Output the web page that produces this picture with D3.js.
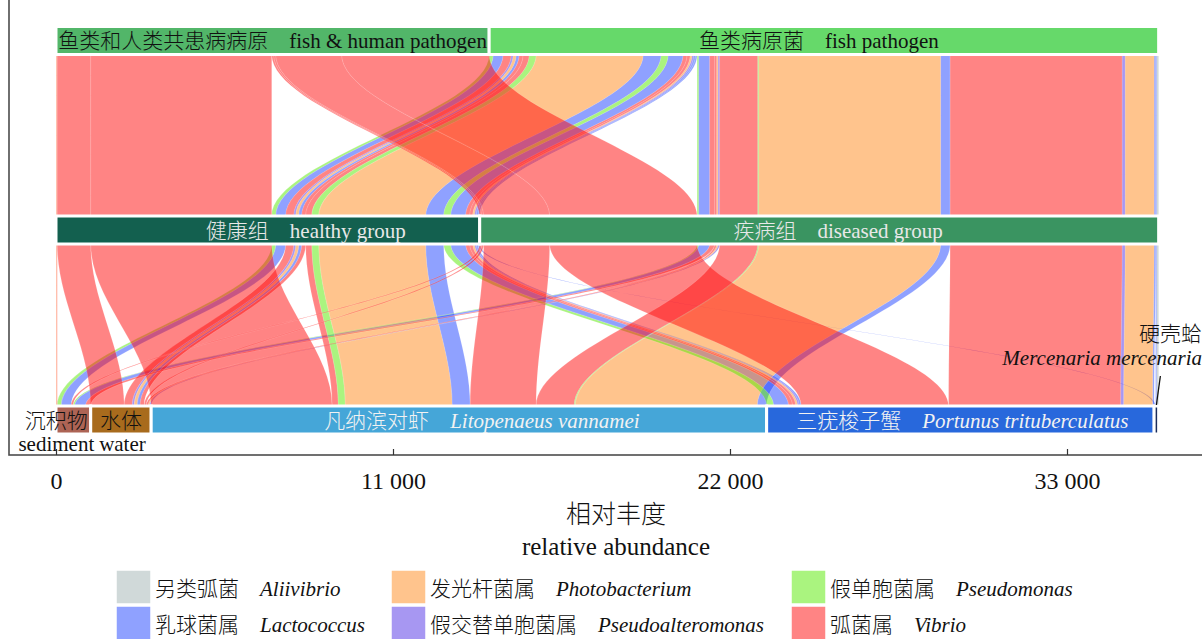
<!DOCTYPE html>
<html>
<head>
<meta charset="utf-8">
<script src="https://cdn.jsdelivr.net/npm/d3@7"></script>
<style>
  html, body { margin: 0; padding: 0; background: #fff; }
  svg { display: block; font-family: "Liberation Serif", "Noto Sans CJK SC", serif; font-weight: 300; }
</style>
</head>
<body>
<svg id="chart" width="1202" height="639"></svg>
<script>
// ---- categories (three axes + fill) ----
const pathogenTypes   = ["fish & human pathogen", "fish pathogen"];
const pathogenTypesZh = ["鱼类和人类共患病病原", "鱼类病原菌"];
const healthGroups    = ["healthy group", "diseased group"];
const healthGroupsZh  = ["健康组", "疾病组"];
const hosts   = ["sediment", "water", "Litopenaeus vannamei", "Portunus trituberculatus", "Mercenaria mercenaria"];
const hostsZh = ["沉积物", "水体", "凡纳滨对虾", "三疣梭子蟹", "硬壳蛤"];
const genera   = ["Aliivibrio", "Lactococcus", "Photobacterium", "Pseudoalteromonas", "Pseudomonas", "Vibrio"];
const generaZh = ["另类弧菌", "乳球菌属", "发光杆菌属", "假交替单胞菌属", "假单胞菌属", "弧菌属"];
const tickValues = [0, 11000, 22000, 33000];

// ---- alluvia: one entry per pathogen type / group / host / genus ----
// flowPathogen, flowGroup, flowHost hold indices into the category arrays above
const flowPathogen = [0, 0, 0, 0,
  1, 1, 1, 1, 1, 1, 1, 1, 1, 1, 1, 1, 1, 1, 1, 1, 1, 1, 1,
  0, 0, 0, 0,
  1, 1, 1, 1, 1, 1, 1, 1, 1, 1, 1, 1, 1, 1, 1, 1];
const flowGroup = [0, 0, 0, 0,
  0, 0, 0, 0, 0, 0, 0, 0, 0, 0, 0, 0, 0, 0, 0, 0, 0, 0, 0,
  1, 1, 1, 1,
  1, 1, 1, 1, 1, 1, 1, 1, 1, 1, 1, 1, 1, 1, 1, 1];
const flowHost = [0, 0, 1, 2,
  0, 0, 1, 1, 1, 1, 1, 2, 2, 2, 2, 3, 3, 3, 3, 3, 3, 3, 4,
  0, 1, 2, 3,
  0, 0, 0, 1, 1, 1, 2, 2, 2, 2, 3, 3, 3, 3, 4, 4];
const flowGenus = [
  "Photobacterium", "Vibrio", "Vibrio", "Vibrio",
  "Pseudomonas", "Lactococcus", "Vibrio", "Pseudoalteromonas", "Photobacterium", "Lactococcus", "Vibrio",
  "Vibrio", "Pseudomonas", "Photobacterium", "Lactococcus",
  "Pseudomonas", "Lactococcus", "Vibrio", "Vibrio", "Photobacterium", "Pseudoalteromonas", "Lactococcus",
  "Lactococcus",
  "Vibrio", "Vibrio", "Vibrio", "Vibrio",
  "Pseudomonas", "Lactococcus", "Vibrio", "Vibrio", "Photobacterium", "Pseudoalteromonas",
  "Vibrio", "Pseudomonas", "Photobacterium", "Lactococcus",
  "Vibrio", "Pseudoalteromonas", "Photobacterium", "Lactococcus",
  "Lactococcus", "Aliivibrio"];
const flowAbundance = [20, 20, 1093, 5908,
  131, 326, 261, 65, 98, 98, 131, 196, 228, 3492, 588, 228, 490, 131, 98, 65, 49, 65, 49,
  65, 65, 2154, 4814,
  49, 359, 163, 65, 49, 49, 1240, 33, 5940, 310, 5614, 98, 947, 49, 33, 65];

// ---- styling ----
const genusColor = d3.scaleOrdinal()
  .domain(genera)
  .range(["#a2b3b3", "#1f44ff", "#ff8a1c", "#5030e6", "#56ea00", "#ff0a0a"]);
const strataFill = [
  ["#52b669", "#66d96a"],
  ["#13604f", "#3a9461"],
  ["#ad6455", "#a86b1d", "#45a6d8", "#2868dc", "#1a2c5b"]
];
const strataText = [
  ["#111", "#111"],
  ["#e8e8e8", "#e8e8e8"],
  ["#111", "#111", "#f2f2f2", "#f2f2f2", "#111"]
];
const labelShift = [[0, -5], [38, 19], [-17, 0, 23, 2, 0]];

const svg = d3.select("#chart");
const W = 1202;

const x = d3.scaleLinear().domain([0, 33000]).range([56, 1067]);
const axisY = [40.5, 230, 420];   // centre of each stratum row
const halfH = 14;
const knot = 0.35;                // control-point depth of the flow curves

// ---- lode layout: each axis orders its lodes by its own stratum, then the
// strata of the other axes (zig-zag guidance), then the alluvium order ----
const n = flowAbundance.length;
const ids = d3.range(n);
const cats = [pathogenTypes, healthGroups, hosts];
const keys = [flowPathogen, flowGroup, flowHost];
const guidance = [[0, 1, 2], [1, 0, 2], [2, 1, 0]];
const lo = [[], [], []], hi = [[], [], []];
const strata = [[], [], []];

guidance.forEach((order, a) => {
  const sorted = ids.slice().sort((p, q) => {
    for (const k of order) {
      const d = keys[k][p] - keys[k][q];
      if (d) return d;
    }
    return p - q;
  });
  let cum = 0;
  sorted.forEach(i => { lo[a][i] = cum; cum += flowAbundance[i]; hi[a][i] = cum; });
  cats[a].forEach((c, s) => {
    const members = ids.filter(i => keys[a][i] === s);
    strata[a].push({
      axis: a, index: s,
      start: d3.min(members, i => lo[a][i]),
      end: d3.max(members, i => hi[a][i])
    });
  });
});

// ---- alluvium ribbons ----
function ribbon(i) {
  const xl = [0, 1, 2].map(a => x(lo[a][i]));
  const xr = [0, 1, 2].map(a => x(hi[a][i]));
  const y0b = axisY[0] + halfH, y1t = axisY[1] - halfH, y1b = axisY[1] + halfH, y2t = axisY[2] - halfH;
  const a1 = y0b + knot * (y1t - y0b), a2 = y1t - knot * (y1t - y0b);
  const b1 = y1b + knot * (y2t - y1b), b2 = y2t - knot * (y2t - y1b);
  const p = d3.path();
  p.moveTo(xl[0], axisY[0]);
  p.lineTo(xl[0], y0b);
  p.bezierCurveTo(xl[0], a1, xl[1], a2, xl[1], y1t);
  p.lineTo(xl[1], y1b);
  p.bezierCurveTo(xl[1], b1, xl[2], b2, xl[2], y2t);
  p.lineTo(xl[2], axisY[2]);
  p.lineTo(xr[2], axisY[2]);
  p.lineTo(xr[2], y2t);
  p.bezierCurveTo(xr[2], b2, xr[1], b1, xr[1], y1b);
  p.lineTo(xr[1], y1t);
  p.bezierCurveTo(xr[1], a2, xr[0], a1, xr[0], y0b);
  p.lineTo(xr[0], axisY[0]);
  p.closePath();
  return p.toString();
}

const drawOrder = ids.slice().sort((p, q) =>
  genera.indexOf(flowGenus[p]) - genera.indexOf(flowGenus[q]) || p - q);

svg.append("g").attr("class", "alluvia")
  .selectAll("path")
  .data(drawOrder)
  .join("path")
  .attr("d", ribbon)
  .attr("fill", i => genusColor(flowGenus[i]))
  .attr("fill-opacity", 0.5)
  .attr("stroke", "#fff")
  .attr("stroke-opacity", 0.45)
  .attr("stroke-width", 0.3);

// ---- strata ----
const allStrata = strata.flat();
svg.append("g").attr("class", "strata")
  .selectAll("rect")
  .data(allStrata)
  .join("rect")
  .attr("x", d => x(d.start))
  .attr("width", d => x(d.end) - x(d.start))
  .attr("y", d => axisY[d.axis] - halfH)
  .attr("height", halfH * 2)
  .attr("fill", d => strataFill[d.axis][d.index])
  .attr("stroke", "#fff")
  .attr("stroke-width", 3);

// ---- stratum labels ----
const zhNames = [pathogenTypesZh, healthGroupsZh, hostsZh];
const labels = svg.append("g").attr("class", "stratum-labels").attr("font-size", 21);

allStrata.forEach(d => {
  const cx = (x(d.start) + x(d.end)) / 2 + labelShift[d.axis][d.index];
  const name = cats[d.axis][d.index];
  const zh = zhNames[d.axis][d.index];
  const base = axisY[d.axis] + 7.5;
  if (d.axis === 2 && d.index <= 1) {
    // small strata: Chinese inside the bar, English on the line below
    labels.append("text").attr("x", cx).attr("y", base)
      .attr("text-anchor", "middle").attr("fill", "#111").text(zh);
    labels.append("text").attr("x", cx + (d.index === 0 ? 0 : 1.5)).attr("y", base + 23)
      .attr("text-anchor", "middle").attr("fill", "#111").text(name);
  } else if (d.axis === 2 && d.index === 4) {
    // tiny stratum: label off to the side with a leader line
    const sx = (x(d.start) + x(d.end)) / 2;
    labels.append("line")
      .attr("x1", sx).attr("y1", axisY[2] - halfH - 1)
      .attr("x2", sx + 4).attr("y2", axisY[2] - halfH - 30)
      .attr("stroke", "#111").attr("stroke-width", 1.3);
    labels.append("text").attr("x", W).attr("y", 341)
      .attr("text-anchor", "end").attr("fill", "#111").text(zh);
    labels.append("text").attr("x", W).attr("y", 365)
      .attr("text-anchor", "end").attr("fill", "#111")
      .attr("font-style", "italic").text(name);
  } else {
    const t = labels.append("text").attr("x", cx).attr("y", base)
      .attr("text-anchor", "middle").attr("fill", strataText[d.axis][d.index]);
    t.append("tspan").text(zh + "\u3000");
    t.append("tspan").attr("font-style", d.axis === 2 ? "italic" : "normal").text(name);
  }
});

// ---- panel frame and axis ----
const panelBottom = 455;
svg.append("rect")
  .attr("x", 9).attr("y", -5)
  .attr("width", 1260).attr("height", panelBottom + 5)
  .attr("fill", "none").attr("stroke", "#4d4d4d").attr("stroke-width", 1.6);

const fmt = d3.formatLocale({ decimal: ".", thousands: " ", grouping: [3], currency: ["", ""] }).format(",");
const axis = d3.axisBottom(x).tickValues(tickValues).tickFormat(fmt)
  .tickSizeInner(-6).tickSizeOuter(0).tickPadding(17);
const ag = svg.append("g").attr("transform", `translate(0,${panelBottom})`).call(axis);
ag.select(".domain").remove();
ag.selectAll(".tick line").attr("stroke", "#333").attr("stroke-width", 1.2);
ag.selectAll(".tick text")
  .attr("fill", "#111")
  .attr("font-size", 24)
  .attr("font-family", "Liberation Serif, serif");

svg.append("text").attr("x", 616).attr("y", 523)
  .attr("text-anchor", "middle").attr("font-size", 25).attr("fill", "#111").text("相对丰度");
svg.append("text").attr("x", 616).attr("y", 555)
  .attr("text-anchor", "middle").attr("font-size", 25).attr("fill", "#111").text("relative abundance");

// ---- legend: three columns, two rows ----
const legendCols = [116, 391, 791];
const legendRows = [570, 606];
const legend = svg.append("g").attr("class", "legend").attr("font-size", 21);
genera.forEach((g, k) => {
  const cx = legendCols[Math.floor(k / 2)];
  const ry = legendRows[k % 2];
  legend.append("rect")
    .attr("x", cx).attr("y", ry).attr("width", 35).attr("height", 34)
    .attr("fill", genusColor(g)).attr("fill-opacity", 0.5)
    .attr("stroke", "#fff").attr("stroke-width", 1.5);
  const t = legend.append("text").attr("x", cx + 39).attr("y", ry + 26).attr("fill", "#111");
  t.append("tspan").text(generaZh[k] + "\u3000");
  t.append("tspan").attr("font-style", "italic").text(g);
});
</script>
</body>
</html>
